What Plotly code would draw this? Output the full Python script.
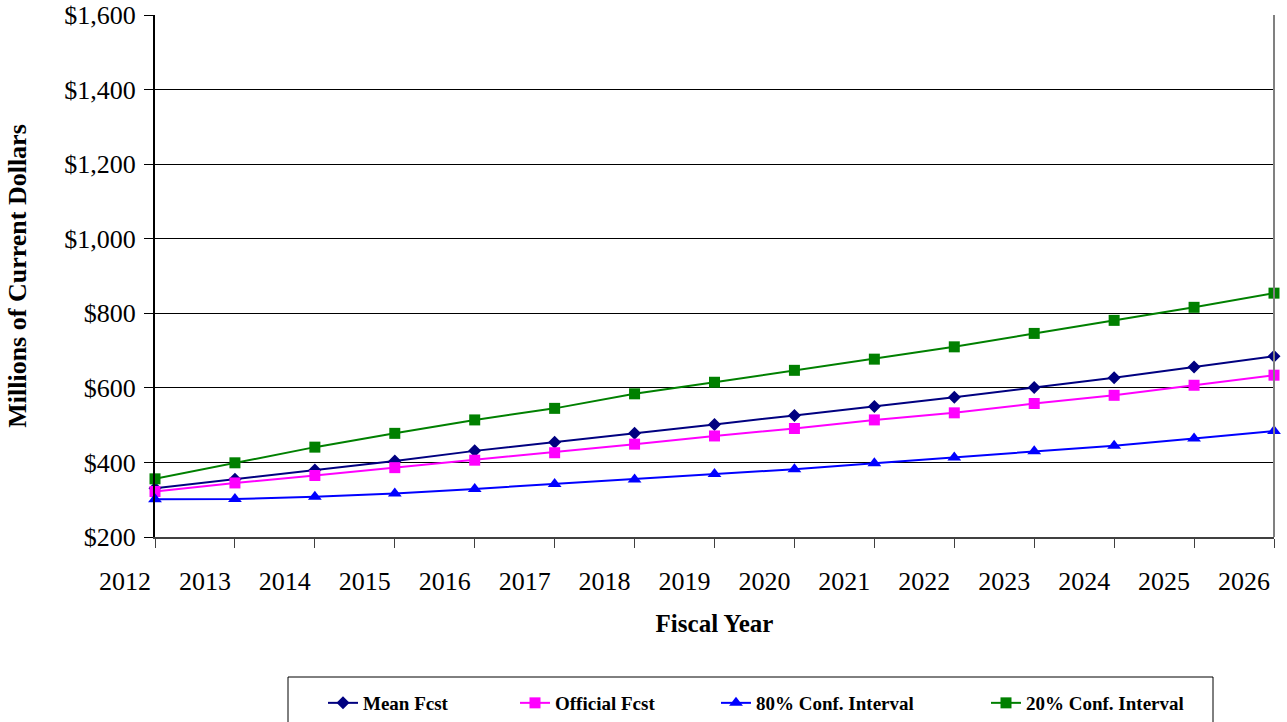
import plotly.graph_objects as go

years = list(range(2012, 2027))
year_labels = [str(y) for y in years]

mean_fcst = [331, 355, 380, 404, 431, 454, 478, 502, 526, 550, 575, 601, 627, 656, 685]
official_fcst = [322, 345, 365, 386, 406, 426, 449, 471, 491, 514, 533, 558, 580, 607, 634]
ci80 = [301, 302, 308, 317, 329, 342, 354, 369, 382, 398, 413, 430, 445, 464, 484]
ci20 = [356, 399, 441, 478, 514, 545, 584, 615, 647, 677, 710, 746, 781, 816, 854]

y_ticks = [200, 400, 600, 800, 1000, 1200, 1400, 1600]
y_tick_labels = [f"${v:,}" for v in y_ticks]

FONT = "Liberation Serif, Times New Roman, serif"

series = [
    ("Mean Fcst", mean_fcst, "#000080", "diamond", 10, "legend"),
    ("Official Fcst", official_fcst, "#FF00FF", "square", 11, "legend2"),
    ("80% Conf. Interval", ci80, "#0000FF", "triangle-up", 12, "legend3"),
    ("20% Conf. Interval", ci20, "#008000", "square", 11, "legend4"),
]

fig = go.Figure()
for name, vals, color, sym, size, leg in series:
    fig.add_trace(go.Scatter(
        x=years, y=vals, name=name, mode="lines+markers",
        line=dict(color=color, width=2),
        marker=dict(color=color, symbol=sym, size=size, line=dict(width=0)),
        cliponaxis=False, legend=leg, showlegend=True,
    ))

W, H = 1287, 722
ml, mr, mt, mb = 155, 13, 15, 185
pw, ph = W - ml - mr, H - mt - mb

def px_x(p):
    return (p - ml) / pw

def px_y(p):
    return (H - mb - p) / ph

leg_common = dict(
    orientation="h", yanchor="middle", xanchor="left",
    xref="container", yref="container",
    bgcolor="rgba(0,0,0,0)", borderwidth=0,
    font=dict(family=FONT, size=19, color="black", weight="bold"),
)
legend_y = (H - 703) / H

fig.update_layout(
    width=W, height=H,
    margin=dict(l=ml, r=mr, t=mt, b=mb, autoexpand=False),
    paper_bgcolor="white", plot_bgcolor="white",
    font=dict(family=FONT, color="black"),
    showlegend=True,
    legend=dict(x=323 / W, y=legend_y, **leg_common),
    legend2=dict(x=515 / W, y=legend_y, **leg_common),
    legend3=dict(x=716 / W, y=legend_y, **leg_common),
    legend4=dict(x=986 / W, y=legend_y, **leg_common),
    xaxis=dict(
        range=[2012, 2026], tickmode="array", tickvals=years, ticktext=year_labels,
        ticks="outside", ticklen=9, tickcolor="#404040", tickwidth=1,
        showline=True, linecolor="#404040", linewidth=2,
        showgrid=False, zeroline=False, automargin=False,
        ticklabelshift=-30, ticklabelstandoff=11,
        tickfont=dict(family=FONT, size=26, color="black"),
        title=dict(text="Fiscal Year", standoff=19,
                   font=dict(family=FONT, size=25, color="black", weight="bold")),
    ),
    xaxis2=dict(
        range=[2012, 2026], overlaying="x", anchor="y", side="bottom",
        tickmode="array", tickvals=years, ticks="inside", ticklen=9,
        tickcolor="#404040", tickwidth=1, automargin=False,
        showticklabels=False, showgrid=False, showline=False, zeroline=False,
    ),
    yaxis=dict(
        range=[200, 1600], tickmode="array", tickvals=y_ticks, ticktext=y_tick_labels,
        ticks="outside", ticklen=9, tickcolor="black", tickwidth=1,
        showline=True, linecolor="black", linewidth=2,
        showgrid=True, gridcolor="black", gridwidth=1, zeroline=False,
        automargin=False, ticklabelstandoff=3,
        tickfont=dict(family=FONT, size=26, color="black"),
        title=dict(text="Millions of Current Dollars", standoff=30,
                   font=dict(family=FONT, size=26, color="black", weight="bold")),
    ),
    shapes=[
        dict(type="line", xref="paper", yref="paper", x0=1, x1=1, y0=0, y1=1,
             line=dict(color="#808080", width=2)),
        dict(type="rect", xref="paper", yref="paper",
             x0=px_x(288), x1=px_x(1213), y0=px_y(677), y1=px_y(740),
             line=dict(color="black", width=1), fillcolor="rgba(0,0,0,0)"),
    ],
)

fig.write_html("out.html", config={"displayModeBar": False},
               post_script="document.body.style.margin='0';")
